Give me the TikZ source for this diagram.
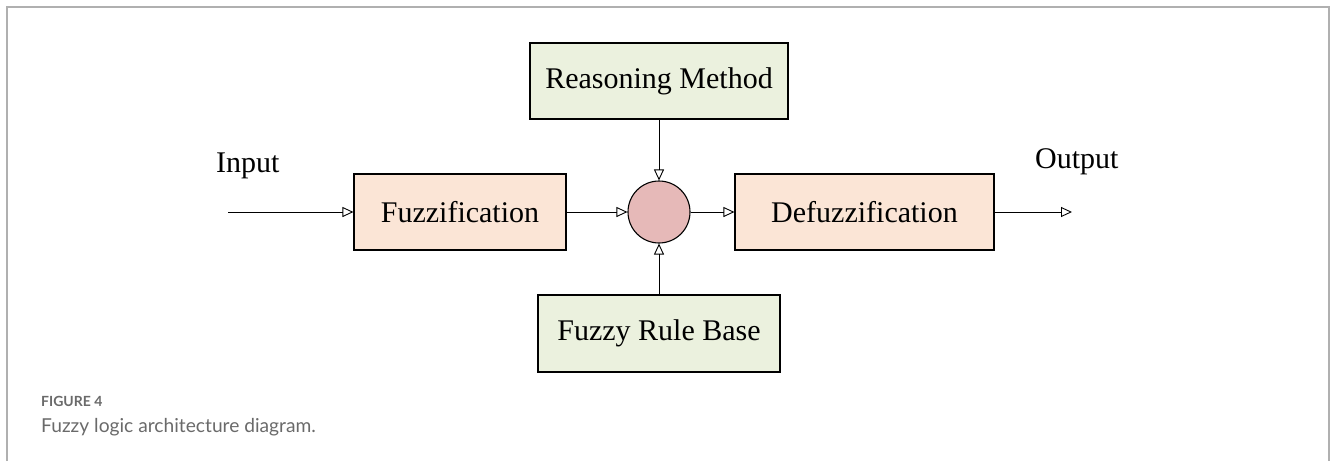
\documentclass[tikz,border=0pt]{standalone}
\usepackage{fontspec}
\setmainfont{Liberation Serif}
\newfontfamily\capfont{Lato}
\usetikzlibrary{arrows.meta}
\definecolor{peach}{HTML}{FBE5D6}
\definecolor{sage}{HTML}{EBF1DE}
\definecolor{rose}{HTML}{E6B9B8}
\definecolor{framegray}{HTML}{B0B0B0}
\definecolor{capgray}{HTML}{6A6A6A}
\begin{document}
\begin{tikzpicture}[x=1pt,y=-1pt,
  blockbox/.style={draw=black, line width=1.1pt, inner sep=0pt, font=\fontsize{30}{33}\selectfont},
  flow/.style={draw=black, line width=0.9pt, -{Triangle[open, length=11pt, width=10pt, line width=0.9pt]}},
  lbl/.style={font=\fontsize{30}{33}\selectfont, inner sep=0pt, anchor=base west}]
  \useasboundingbox (0,0) rectangle (1330,461);
  % outer frame: top, left and right edges only
  \draw[framegray, line width=2pt] (6.5,461) -- (6.5,6.5) -- (1329,6.5) -- (1329,461);

  % blocks
  \node[blockbox, fill=peach, minimum width=212pt, minimum height=76pt] (fuz) at (460,212) {Fuzzification};
  \node[blockbox, fill=peach, minimum width=259pt, minimum height=76pt] (defuz) at (864.5,212) {Defuzzification};
  \node[blockbox, fill=sage, minimum width=258pt, minimum height=76pt] (reason) at (659,81) {Reasoning Method};
  \node[blockbox, fill=sage, minimum width=242pt, minimum height=77pt] (rules) at (659,333.5) {Fuzzy Rule Base};
  \node[draw=black, line width=1.1pt, fill=rose, circle, minimum size=62pt, inner sep=0pt] (inf) at (659,212) {};

  % free ends of the input and output lines
  \coordinate (in) at (228,212);
  \coordinate (out) at (1072,212);

  % connectors
  \draw[flow] (in) -- (fuz.west);
  \draw[flow] (fuz.east) -- (inf.west);
  \draw[flow] (inf.east) -- (defuz.west);
  \draw[flow] (reason.south) -- (inf.north);
  \draw[flow] (rules.north) -- (inf.south);
  \draw[flow] (defuz.east) -- (out);

  % labels
  \node[lbl] (inlbl) at (216,172) {Input};
  \node[lbl] (outlbl) at (1035,168) {Output};

  % caption
  \node[anchor=base west, inner sep=0pt, text=capgray, font=\capfont\bfseries\fontsize{14}{16}\selectfont] (fig) at (41,406) {FIGURE 4};
  \node[anchor=base west, inner sep=0pt, text=capgray, font=\capfont\fontsize{19.2}{22}\selectfont] (cap) at (41,432) {Fuzzy logic architecture diagram.};
\end{tikzpicture}
\end{document}
